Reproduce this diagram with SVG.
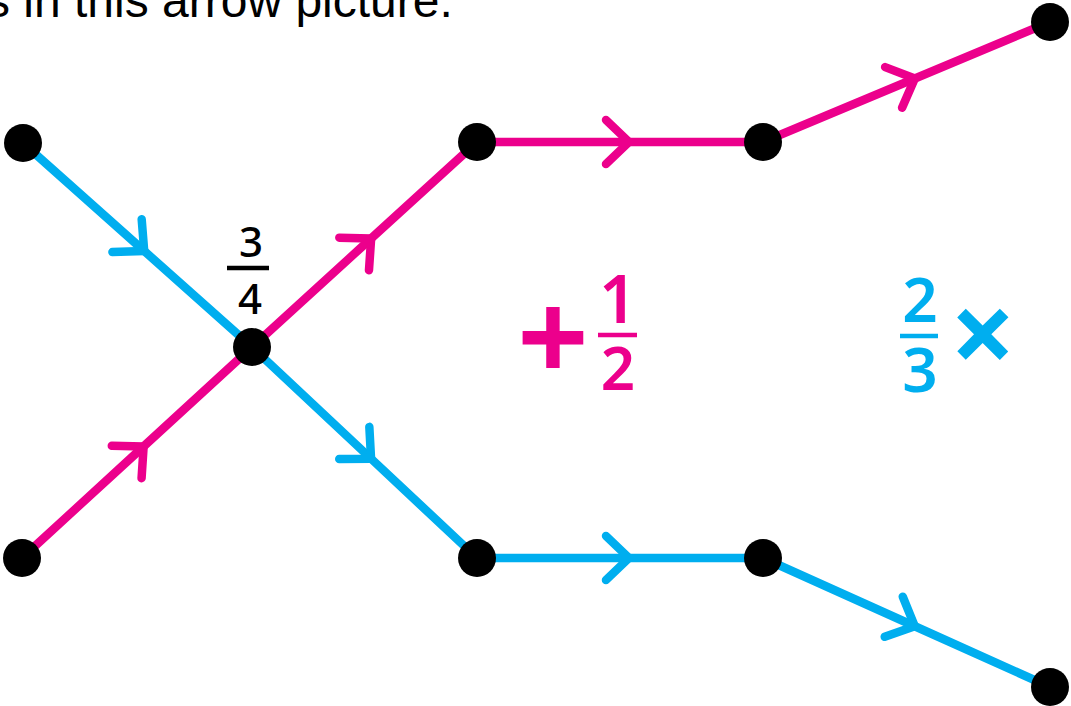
<svg xmlns="http://www.w3.org/2000/svg" width="1071" height="706" viewBox="0 0 1071 706">
<style>
.pk{stroke:#EC008C}
.bl{stroke:#00AEEF}
.edge{fill:none;stroke-width:8.5;stroke-linecap:round}
.node{fill:#000}
.hdr{font-family:"Liberation Sans",Arial,sans-serif;font-size:48px;fill:#000}
.fr{font-family:"Noto Sans","DejaVu Sans",sans-serif;text-anchor:middle}
.bar{stroke-width:4.5;stroke-linecap:butt}
</style>
<defs>
<marker id="mp" markerUnits="userSpaceOnUse" orient="auto" overflow="visible" markerWidth="1" markerHeight="1" refX="0" refY="0">
<path d="M -14,-22 L 9,0 L -14,22" fill="none" stroke="#EC008C" stroke-width="8.5" stroke-linecap="round" stroke-linejoin="round"/>
</marker>
<marker id="mb" markerUnits="userSpaceOnUse" orient="auto" overflow="visible" markerWidth="1" markerHeight="1" refX="0" refY="0">
<path d="M -14,-22 L 9,0 L -14,22" fill="none" stroke="#00AEEF" stroke-width="8.5" stroke-linecap="round" stroke-linejoin="round"/>
</marker>
</defs>
<rect width="1071" height="706" fill="#fff"/>
<text class="hdr" x="-14" y="17">s in this arrow picture.</text>
<g id="connectors">
<path class="edge bl" marker-mid="url(#mb)" d="M23,143 L137.5,245 L252,347"/>
<path class="edge bl" marker-mid="url(#mb)" d="M252,347 L364.5,452.5 L477,558"/>
<path class="edge bl" marker-mid="url(#mb)" d="M477,558 L620,558 L763,558"/>
<path class="edge bl" marker-mid="url(#mb)" d="M763,558 L906.5,622.5 L1050,687"/>
<path class="edge pk" marker-mid="url(#mp)" d="M22,558 L137,452.5 L252,347"/>
<path class="edge pk" marker-mid="url(#mp)" d="M252,347 L364.5,244.5 L477,142"/>
<path class="edge pk" marker-mid="url(#mp)" d="M477,142 L620,142 L763,142"/>
<path class="edge pk" marker-mid="url(#mp)" d="M763,142 L906.5,82 L1050,22"/>
</g>
<g id="nA"><circle class="node" cx="23" cy="143" r="19"/></g>
<g id="nB"><circle class="node" cx="22" cy="558" r="19"/></g>
<g id="nC"><circle class="node" cx="252" cy="347" r="19"/></g>
<g id="nD"><circle class="node" cx="477" cy="142" r="19"/></g>
<g id="nE"><circle class="node" cx="763" cy="142" r="19"/></g>
<g id="nF"><circle class="node" cx="1050" cy="22" r="19"/></g>
<g id="nG"><circle class="node" cx="477" cy="558" r="19"/></g>
<g id="nH"><circle class="node" cx="763" cy="558" r="19"/></g>
<g id="nI"><circle class="node" cx="1050" cy="687" r="19"/></g>
<g id="label-34">
<text class="fr" x="251" y="257" font-size="42" font-weight="500" fill="#000">3</text>
<line class="bar" x1="227" y1="268" x2="269" y2="268" stroke="#000" stroke-width="3.5"/>
<text class="fr" x="250" y="314" font-size="42" font-weight="500" fill="#000">4</text>
</g>
<g id="label-plus-half" fill="#EC008C">
<text class="fr" x="553" y="382" font-size="125" font-weight="700">+</text>
<text class="fr" x="618" y="323" font-size="66" font-weight="600">1</text>
<line class="bar pk" x1="598" y1="335" x2="637" y2="335"/>
<text class="fr" x="618" y="390" font-size="60" font-weight="600">2</text>
</g>
<g id="label-two-thirds-times" fill="#00AEEF">
<text class="fr" x="920" y="322" font-size="62" font-weight="600">2</text>
<line class="bar bl" x1="900" y1="336" x2="938" y2="336"/>
<text class="fr" x="920" y="392" font-size="62" font-weight="600">3</text>
<text class="fr" x="983" y="375" font-size="115" font-weight="700">×</text>
</g>
</svg>
